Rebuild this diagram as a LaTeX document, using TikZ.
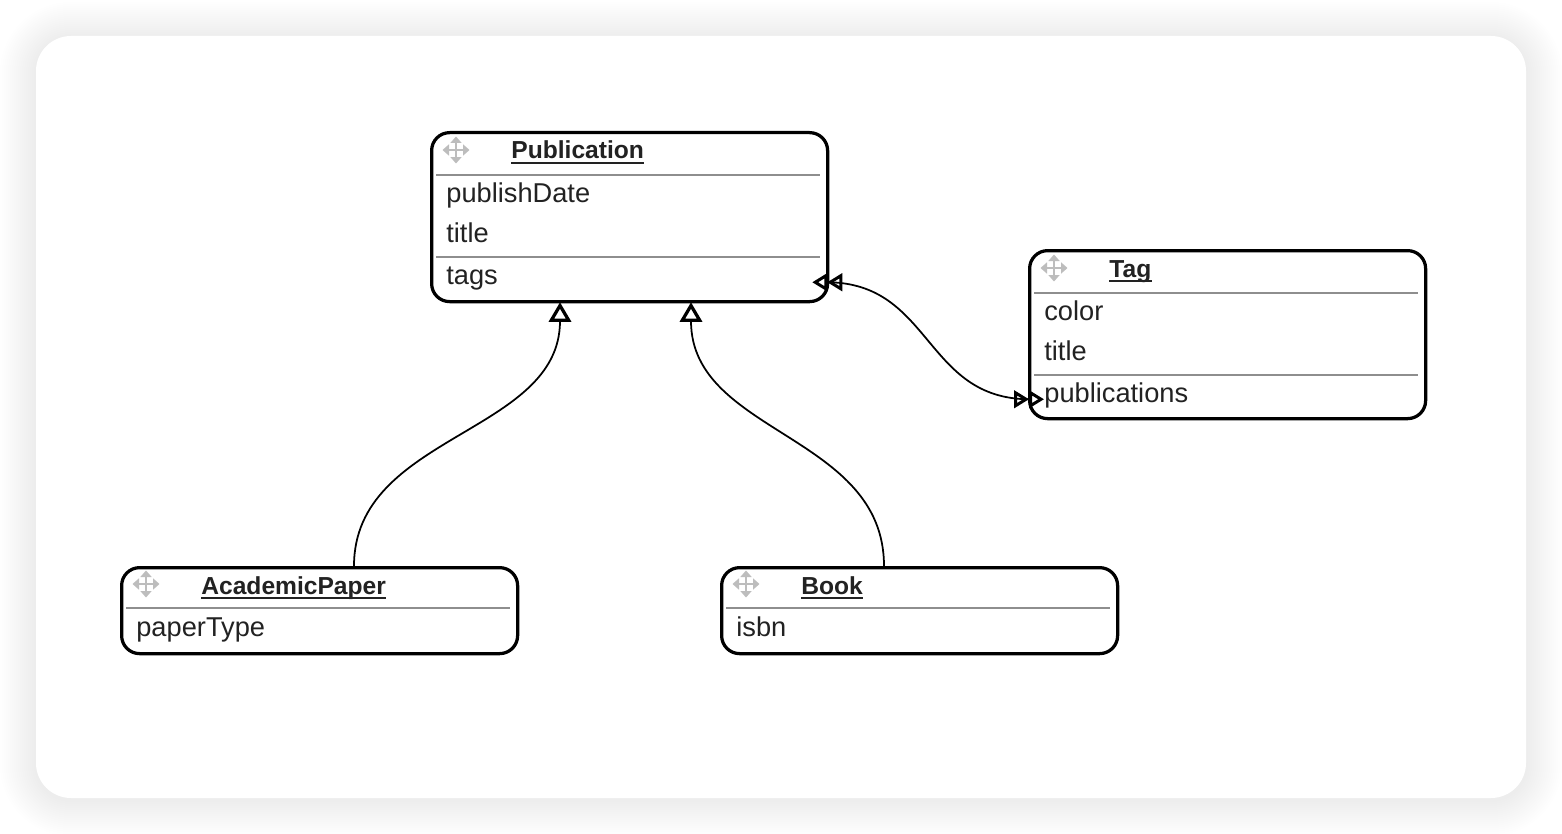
\documentclass[tikz,border=0pt]{standalone}
\usepackage{fontspec}
\setmainfont{Liberation Sans}
\usepackage{tikz}
\usetikzlibrary{arrows.meta,calc}
\definecolor{ink}{HTML}{222222}
\definecolor{rulegray}{HTML}{8E8E8E}
\definecolor{gripgray}{HTML}{BDBDBD}
\newcommand{\grip}[1]{
\foreach \a in {0,90,180,270}
  \draw[gripline] (#1) -- ++(\a:2.7mm);
}
\tikzset{
  entity/.style={draw=black, line width=0.65mm, rounded corners=3.6mm, fill=white,
    anchor=north west, minimum width=79.2mm, inner sep=0},
  etitle/.style={anchor=base west, inner sep=0, text=ink,
    font=\fontsize{14}{14}\selectfont\bfseries},
  field/.style={anchor=base west, inner sep=0, text=ink,
    font=\fontsize{15.5}{15.5}\selectfont},
  sepline/.style={draw=rulegray, line width=0.4mm},
  gripline/.style={draw=gripgray, line width=0.45mm, -{Triangle[length=1.3mm,width=2.2mm]}},
  isa/.style={line width=0.35mm, -{Triangle[open,length=3.9mm,width=4.4mm,line width=0.65mm]}},
  many/.style={line width=0.35mm,
    {Triangle[open,length=3mm,width=3.5mm,line width=0.6mm]Triangle[open,length=3mm,width=3.5mm,line width=0.6mm]}-{Triangle[open,length=3mm,width=3.5mm,line width=0.6mm]Triangle[open,length=3mm,width=3.5mm,line width=0.6mm]}}
}

\begin{document}
\begin{tikzpicture}[x=0.2mm, y=-0.2mm]
\useasboundingbox (0,0) rectangle (1562,834);
\fill[white] (0,0) rectangle (1562,834);
% card and its shadow
\foreach \i [evaluate=\i as \r using 7+0.4*\i] in {18,17,...,1}
  \fill[black, opacity=0.005, rounded corners=\r mm] (36-2*\i,38-2*\i) rectangle (1526+2*\i,800+2*\i);
\fill[white, rounded corners=7mm] (36,36) rectangle (1526,798);

% Publication
\node[entity, minimum height=33.8mm] (pub) at (430,131) {};
\node[etitle] (pubt) at (511,159) {Publication};
\grip{456,150}
\draw[sepline] (436,175) -- (820,175);
\node[field] (pubdate) at (446,202) {publishDate};
\node[field] (pubtitle) at (446,242) {title};
\draw[sepline] (436,257) -- (820,257);
\node[field] (pubtags) at (446,284) {tags};

% Tag
\node[entity, minimum height=33.6mm] (tag) at (1028,249) {};
\node[etitle] (tagt) at (1109,277) {Tag};
\grip{1054,268}
\draw[sepline] (1034,293) -- (1418,293);
\node[field] (tagcolor) at (1044,320) {color};
\node[field] (tagtitle) at (1044,360) {title};
\draw[sepline] (1034,375) -- (1418,375);
\node[field] (tagpubs) at (1044,402) {publications};

% AcademicPaper
\node[entity, minimum height=17.2mm] (ap) at (120,566) {};
\node[etitle] (apt) at (201,594) {AcademicPaper};
\grip{146,584}
\draw[sepline] (126,608) -- (510,608);
\node[field] (aptype) at (136,636) {paperType};

% Book
\node[entity, minimum height=17.2mm] (book) at (720,566) {};
\node[etitle] (bookt) at (801,594) {Book};
\grip{746,584}
\draw[sepline] (726,608) -- (1110,608);
\node[field] (bookisbn) at (736,636) {isbn};

\foreach \t in {pubt,tagt,apt,bookt}
  \draw[ink, line width=0.55mm] ($(\t.base west)+(0,4)$) -- ($(\t.base east)+(0,4)$);

% relations
\draw[isa] ($(ap.north west)+(234,0)$) .. controls +(0,-132) and +(0,132) .. ($(pub.south west)+(130,-1)$);
\draw[isa] ($(book.north west)+(164,0)$) .. controls +(0,-132) and +(0,132) .. ($(pub.south west)+(261,-1)$);
\draw[many] ($(pub.south east)+(-17,-21)$) .. controls +(120,0) and +(-120,0) .. ($(tag.south west)+(16,-21)$);
\end{tikzpicture}
\end{document}
